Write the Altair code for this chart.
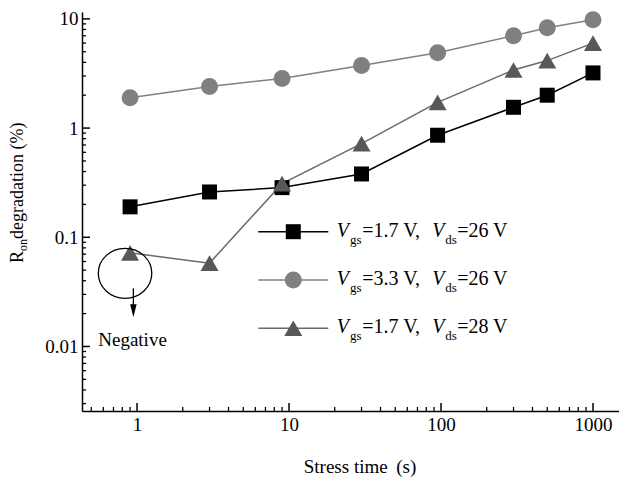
import altair as alt
import pandas as pd

# ---------------- data ----------------
stress_time = [0.9, 3, 9, 30, 95, 300, 500, 1000]
ron_vgs17_vds26 = [0.19, 0.26, 0.285, 0.38, 0.86, 1.55, 2.0, 3.2]
ron_vgs33_vds26 = [1.9, 2.4, 2.85, 3.75, 4.9, 7.0, 8.3, 9.8]
ron_vgs17_vds28 = [0.072, 0.058, 0.31, 0.72, 1.72, 3.4, 4.15, 6.0]
vgs_text = ["1.7", "3.3", "1.7"]
vds_text = ["26", "26", "28"]
x_tick_values = [1, 10, 100, 1000]
y_tick_values = [0.01, 0.1, 1, 10]
annotation_text = "Negative"
x_title = "Stress time \u2009(s)"
y_title_parts = ["R", "on", "\u00a0degradation (%)"]

# ---------------- layout / style ----------------
FONT = "Liberation Serif"
W, H = 537, 399
PAD = {"left": 82, "top": 12, "right": 0, "bottom": 69}
X_DOMAIN = [0.4345, 1483]
Y_DOMAIN = [0.002566, 11.56]

xs = alt.Scale(type="log", domain=X_DOMAIN, nice=False)
ys = alt.Scale(type="log", domain=Y_DOMAIN, nice=False)

common_axis = dict(ticks=False, grid=False, domainColor="black", domainWidth=1.5,
                   labelFont=FONT, labelFontSize=19, labelColor="black",
                   labelPadding=4, labelFlush=False, labelOverlap=False,
                   format="~g", title=None)
x_axis = alt.Axis(values=x_tick_values, **common_axis)
y_axis = alt.Axis(values=y_tick_values, **common_axis)


def X(field):
    return alt.X(field, type="quantitative", scale=xs, axis=x_axis)


def Y(field):
    return alt.Y(field, type="quantitative", scale=ys, axis=y_axis)


series = [
    dict(vals=ron_vgs17_vds26, shape="square", fill="#000000", line="#000000", size=225),
    dict(vals=ron_vgs33_vds26, shape="circle", fill="#808080", line="#808080", size=289),
    dict(vals=ron_vgs17_vds28, shape="triangle-up", fill="#585858", line="#6a6a6a", size=324),
]

dummy = pd.DataFrame({"a": [0]})
layers = []

# minor / major tick marks drawn inward
lo_x, hi_x = X_DOMAIN
lo_y, hi_y = Y_DOMAIN
x_minor = [m * 10.0 ** k for k in range(-1, 3) for m in range(2, 10)
           if lo_x < m * 10.0 ** k < hi_x]
y_minor = [m * 10.0 ** k for k in range(-3, 1) for m in range(2, 10)
           if lo_y < m * 10.0 ** k < hi_y]

layers.append(alt.Chart(pd.DataFrame({"v": x_tick_values})).mark_rule(color="black", strokeWidth=1.5)
              .encode(x=X("v"), y=alt.value(H), y2=alt.value(H - 8)))
layers.append(alt.Chart(pd.DataFrame({"v": x_minor})).mark_rule(color="black", strokeWidth=1.3)
              .encode(x=X("v"), y=alt.value(H), y2=alt.value(H - 4)))
layers.append(alt.Chart(pd.DataFrame({"v": y_tick_values})).mark_rule(color="black", strokeWidth=1.5)
              .encode(y=Y("v"), x=alt.value(0), x2=alt.value(8)))
layers.append(alt.Chart(pd.DataFrame({"v": y_minor})).mark_rule(color="black", strokeWidth=1.3)
              .encode(y=Y("v"), x=alt.value(0), x2=alt.value(4)))

# data lines then markers
for s in series:
    df = pd.DataFrame({"t": stress_time, "r": s["vals"]})
    layers.append(alt.Chart(df).mark_line(color=s["line"], strokeWidth=1.5)
                  .encode(x=X("t"), y=Y("r")))
for s in series:
    df = pd.DataFrame({"t": stress_time, "r": s["vals"]})
    layers.append(alt.Chart(df).mark_point(shape=s["shape"], filled=True, size=s["size"],
                                           color=s["fill"], opacity=1, strokeWidth=0)
                  .encode(x=X("t"), y=Y("r")))

# "Negative" annotation: ellipse, arrow, label
ell = pd.DataFrame({"t": [0.834], "r": [0.0468]})
layers.append(alt.Chart(ell).mark_point(
    shape="M -1.07 0 A 1.07 1 0 1 1 1.07 0 A 1.07 1 0 1 1 -1.07 0 Z",
    size=2500, filled=False, color="black", strokeWidth=1.3, opacity=1)
    .encode(x=X("t"), y=Y("r")))
arrow = pd.DataFrame({"t": [0.946], "r1": [0.0341], "r2": [0.0235]})
layers.append(alt.Chart(arrow).mark_rule(color="black", strokeWidth=1.3)
              .encode(x=X("t"), y=Y("r1"), y2=alt.Y2("r2")))
head = pd.DataFrame({"t": [0.946], "r": [0.0212]})
layers.append(alt.Chart(head).mark_point(shape="M -0.5 -1 L 0.5 -1 L 0 1 Z", size=169,
                                         filled=True, color="black", opacity=1, strokeWidth=0)
              .encode(x=X("t"), y=Y("r")))
neg = pd.DataFrame({"t": [0.934], "r": [0.01148]})
layers.append(alt.Chart(neg).mark_text(text=annotation_text, font=FONT, fontSize=19,
                                       color="black", align="center", baseline="middle")
              .encode(x=X("t"), y=Y("r")))


def txt(s, x, y, size, dx=0, dy=0, style="normal", angle=0, align="left"):
    return alt.Chart(dummy).mark_text(text=s, font=FONT, fontSize=size, fontStyle=style,
                                      align=align, baseline="alphabetic", dx=dx, dy=dy,
                                      angle=angle, color="black").encode(
        x=alt.value(x), y=alt.value(y))


# legend
for i, s in enumerate(series):
    ly = 219.7 + 48.3 * i
    layers.append(alt.Chart(dummy).mark_rule(color=s["line"], strokeWidth=1.5)
                  .encode(x=alt.value(176.3), x2=alt.value(246.3), y=alt.value(ly)))
    layers.append(alt.Chart(dummy).mark_point(shape=s["shape"], filled=True, size=s["size"],
                                              color=s["fill"], opacity=1, strokeWidth=0)
                  .encode(x=alt.value(211.3), y=alt.value(ly)))
    bx, by = 254.7, ly + 5
    layers.append(txt("V", bx, by, 20, style="italic"))
    layers.append(txt("gs", bx, by, 13, dx=13.3, dy=7))
    layers.append(txt("=" + vgs_text[i] + " V,", bx, by, 20, dx=25.6))
    layers.append(txt("V", bx, by, 20, dx=95.5, style="italic"))
    layers.append(txt("ds", bx, by, 13, dx=108.5, dy=7))
    layers.append(txt("=" + vds_text[i] + " V", bx, by, 20, dx=120.5))

# axis titles
layers.append(txt(x_title, 278, 461, 19, align="center"))
layers.append(txt(y_title_parts[0], -59, 251, 18, angle=270))
layers.append(txt(y_title_parts[1], -59, 251, 12, dx=12, dy=4, angle=270))
layers.append(txt(y_title_parts[2], -59, 251, 18, dx=24, angle=270))

chart = alt.layer(*layers).properties(
    width=W, height=H, padding=PAD, autosize=alt.AutoSizeParams(type="none"),
    background="white"
).configure_view(stroke=None)

chart.save("out.html", embed_options={"renderer": "svg", "actions": False})
